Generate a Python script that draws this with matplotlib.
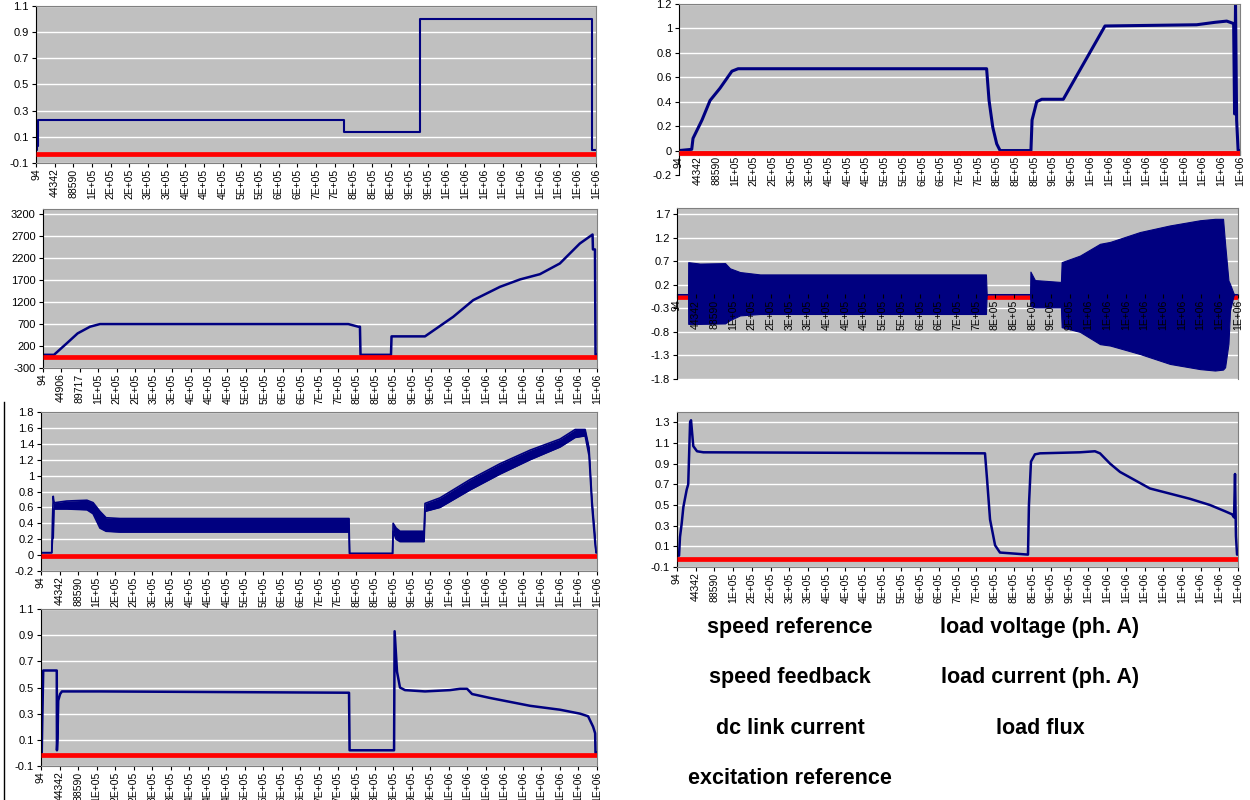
import matplotlib
matplotlib.use("Agg")
import matplotlib.pyplot as plt
from matplotlib.lines import Line2D
from matplotlib.ticker import FormatStrFormatter

plt.rcParams['font.family'] = ['Liberation Sans', 'DejaVu Sans']

W, H = 1250, 800
NAVY = '#000080'
RED = '#ff0000'
PLOT_BG = '#c0c0c0'

# category axis labels as Excel printed them (31 categories, index 0..30)
cat_labels = ["94", "44342", "88590", "1E+05", "2E+05", "2E+05", "3E+05", "3E+05",
              "4E+05", "4E+05", "4E+05", "5E+05", "5E+05", "6E+05", "6E+05", "7E+05",
              "7E+05", "8E+05", "8E+05", "8E+05", "9E+05", "9E+05", "1E+06", "1E+06",
              "1E+06", "1E+06", "1E+06", "1E+06", "1E+06", "1E+06", "1E+06"]
cat_labels_volt = ["94", "44906", "89717"] + cat_labels[3:]

# speed reference (top left)
spd_ref_x = [0, 0.06, 0.06, 0.10, 0.10, 16.50, 16.50, 20.57, 20.57, 29.77, 29.77, 30]
spd_ref_y = [0, 0, 0.03, 0.03, 0.23, 0.23, 0.14, 0.14, 1.0, 1.0, 0, 0]

# speed feedback (top right)
spd_fb_x = [0, 0.68, 0.75, 1.23, 1.66, 2.19, 2.83, 3.16, 16.45, 16.58, 16.78, 16.99, 17.17,
            18.82, 18.88, 19.13, 19.40, 20.55, 22.78, 27.68, 28.66, 29.29, 29.66, 29.71,
            29.76, 29.82, 29.90, 30]
spd_fb_y = [0, 0.01, 0.10, 0.25, 0.41, 0.51, 0.65, 0.67, 0.67, 0.41, 0.19, 0.055, 0,
            0, 0.25, 0.40, 0.42, 0.42, 1.02, 1.03, 1.05, 1.06, 1.04, 0.30,
            1.20, 0.25, 0.0, 0.0]

# load voltage (middle left)
volt_x = [0, 0.61, 1.30, 1.89, 2.56, 3.10, 16.54, 17.08, 17.17, 17.20, 18.85, 18.88, 20.69,
          22.22, 23.30, 24.75, 25.83, 26.91, 27.99, 29.07, 29.76, 29.78, 29.89, 29.92, 30]
volt_y = [0, 0, 261, 488, 640, 700, 700, 640, 640, 0, 0, 420, 420,
          866, 1245, 1548, 1716, 1836, 2080, 2534, 2739, 2400, 2400, 0, 0]

# load current ph. A (middle right), envelope of the oscillation
cur_x = [0, 0.59, 0.60, 1.23, 2.57, 2.83, 3.37, 4.44, 16.52, 16.56,
         18.88, 18.90, 19.14, 20.53, 20.57, 21.55, 22.62, 23.16, 24.76, 26.36,
         27.97, 28.77, 29.20, 29.31, 29.49, 29.57, 29.75, 29.79, 30]
cur_hi = [0, 0, 0.68, 0.65, 0.66, 0.55, 0.47, 0.42, 0.42, 0,
          0, 0.48, 0.30, 0.26, 0.68, 0.82, 1.07, 1.11, 1.32, 1.46,
          1.57, 1.60, 1.60, 1.07, 0.29, 0.22, 0.03, 0, 0]
cur_lo = [0, 0, -0.63, -0.63, -0.62, -0.55, -0.45, -0.42, -0.42, 0,
          0, -0.25, -0.28, -0.28, -0.70, -0.80, -1.06, -1.09, -1.27, -1.48,
          -1.59, -1.62, -1.60, -1.55, -1.05, -0.35, -0.05, 0, 0]

# dc link current (third left), noisy band
dc_x = [0, 0.58, 0.62, 0.66, 0.70, 0.76, 1.39, 2.48, 2.81, 3.18,
        3.51, 4.26, 16.62, 16.65, 18.97, 19.00, 19.16, 19.37, 20.67, 20.72,
        21.53, 23.15, 24.77, 26.39, 28.01, 28.82, 29.36, 29.57, 29.73, 29.89,
        29.95, 30]
dc_hi = [0.03, 0.03, 0.45, 0.74, 0.66, 0.66, 0.68, 0.69, 0.66, 0.55,
         0.47, 0.46, 0.46, 0.02, 0.02, 0.40, 0.34, 0.30, 0.30, 0.65,
         0.72, 0.95, 1.15, 1.32, 1.46, 1.58, 1.58, 1.35, 0.70, 0.25,
         0.03, 0.03]
dc_lo = [0.03, 0.03, 0.20, 0.22, 0.58, 0.58, 0.58, 0.57, 0.52, 0.34,
         0.30, 0.29, 0.29, 0.02, 0.02, 0.30, 0.20, 0.17, 0.17, 0.55,
         0.60, 0.82, 1.02, 1.20, 1.36, 1.48, 1.50, 1.25, 0.60, 0.15,
         0.03, 0.03]

# load flux (third right)
flux_x = [0, 0.11, 0.16, 0.25, 0.34, 0.52, 0.60, 0.70, 0.75, 0.87,
          1.07, 1.41, 16.47, 16.58, 16.74, 17.01, 17.27, 18.77, 18.82, 18.93,
          19.14, 19.41, 21.55, 22.35, 22.62, 23.16, 23.69, 24.49, 25.29, 26.36,
          27.43, 28.50, 29.30, 29.68, 29.79, 29.84, 29.89, 29.95, 30]
flux_y = [0.01, 0.01, 0.19, 0.32, 0.48, 0.65, 0.70, 1.30, 1.32, 1.07,
          1.02, 1.01, 1.0, 0.75, 0.36, 0.11, 0.04, 0.02, 0.5, 0.92,
          0.99, 1.0, 1.01, 1.02, 1.0, 0.9, 0.82, 0.74, 0.66, 0.61,
          0.56, 0.50, 0.44, 0.41, 0.38, 0.80, 0.20, 0.02, 0.02]

# excitation reference (bottom left)
exc_x = [0, 0.04, 0.07, 0.12, 0.85, 0.86, 0.89, 0.93, 1.03, 1.13,
         3.18, 16.62, 16.65, 19.05, 19.08, 19.21, 19.37, 19.64, 20.72, 22.07,
         22.61, 22.99, 23.26, 24.23, 25.31, 26.39, 28.01, 29.09, 29.52, 29.79,
         29.90, 29.92, 30]
exc_y = [0, 0, 0.25, 0.63, 0.63, 0.02, 0.11, 0.40, 0.45, 0.47,
         0.47, 0.46, 0.02, 0.02, 0.93, 0.62, 0.50, 0.48, 0.47, 0.48,
         0.49, 0.49, 0.45, 0.42, 0.39, 0.36, 0.33, 0.30, 0.28, 0.20,
         0.15, 0.0, 0.0]

# the red (second) series, flat just under zero
red_x = [0, 30]
red_a, red_b, red_c, red_d = -0.03, -0.016, -43, -0.05
red_e, red_f, red_g = -0.017, -0.02, -0.014

# y axis ticks of each chart
yt_a = [-0.1, 0.1, 0.3, 0.5, 0.7, 0.9, 1.1]
yt_b = [-0.2, 0, 0.2, 0.4, 0.6, 0.8, 1, 1.2]
yt_c = [-300, 200, 700, 1200, 1700, 2200, 2700, 3200]
yt_d = [-1.8, -1.3, -0.8, -0.3, 0.2, 0.7, 1.2, 1.7]
yt_e = [-0.2, 0, 0.2, 0.4, 0.6, 0.8, 1, 1.2, 1.4, 1.6, 1.8]
yt_f = [-0.1, 0.1, 0.3, 0.5, 0.7, 0.9, 1.1, 1.3]

left_names = ["speed reference", "speed feedback", "dc link current", "excitation reference"]
right_names = ["load voltage (ph. A)", "load current (ph. A)", "load flux"]


def make_axes(fig, box, ylim, yticks, xlabels, cross_zero=False):
    x0, ytop, x1, ybot = box
    ax = fig.add_axes([x0 / W, 1 - ybot / H, (x1 - x0) / W, (ybot - ytop) / H])
    # spine position has to be set first, it resets the tick styling
    if cross_zero:
        ax.spines['bottom'].set_position(('data', 0))
    ax.set_facecolor(PLOT_BG)
    ax.set_xlim(0, 30)
    ax.set_ylim(*ylim)
    ax.set_yticks(yticks)
    ax.yaxis.set_major_formatter(FormatStrFormatter('%g'))
    ax.set_xticks(range(len(xlabels)))
    ax.set_xticklabels(xlabels, rotation=90)
    ax.tick_params(axis='both', length=3, width=0.8, color='black')
    ax.tick_params(axis='y', pad=2, labelsize=8)
    ax.tick_params(axis='x', pad=1, labelsize=7.5)
    ax.yaxis.grid(True, color='white', linewidth=1)
    ax.set_axisbelow(True)
    ax.spines['left'].set_color('black')
    for s in ['top', 'right', 'bottom']:
        ax.spines[s].set_color('#808080')
    return ax


fig = plt.figure(figsize=(W / 100, H / 100), dpi=100)

# speed reference
ax = make_axes(fig, (36, 6, 596, 163), (-0.1, 1.1), yt_a, cat_labels)
ax.plot(spd_ref_x, spd_ref_y, color=NAVY, lw=1.5, zorder=2)
ax.plot(red_x, [red_a, red_a], color=RED, lw=3.4, zorder=3, solid_capstyle='butt')

# speed feedback, axis crosses at 0 and plot area ends there
ax = make_axes(fig, (679, 4, 1240, 175), (-0.2, 1.2), yt_b, cat_labels, cross_zero=True)
ax.set_facecolor('white')
ax.axhspan(-0.036, 1.2, color=PLOT_BG, zorder=0)
ax.spines['right'].set_bounds(-0.036, 1.2)
ax.plot(spd_fb_x, spd_fb_y, color=NAVY, lw=2.2, zorder=2)
ax.plot(red_x, [red_b, red_b], color=RED, lw=3.4, zorder=3, solid_capstyle='butt')

# load voltage
ax = make_axes(fig, (42.7, 209, 597, 368), (-300, 3320), yt_c, cat_labels_volt)
ax.plot(volt_x, volt_y, color=NAVY, lw=1.8, zorder=2)
ax.plot(red_x, [red_c, red_c], color=RED, lw=3.4, zorder=3, solid_capstyle='butt')

# load current, category labels sit on top of the waveform
ax = make_axes(fig, (677, 208, 1238, 379), (-1.8, 1.83), yt_d, cat_labels, cross_zero=True)
ax.spines['bottom'].set_zorder(1)
ax.xaxis.set_zorder(3)
ax.plot(red_x, [red_d, red_d], color=RED, lw=3.4, zorder=1.5, solid_capstyle='butt')
ax.fill_between(cur_x, cur_lo, cur_hi, color=NAVY, lw=0.8, zorder=2)

# dc link current
ax = make_axes(fig, (41, 412, 597, 571), (-0.2, 1.8), yt_e, cat_labels)
ax.fill_between(dc_x, dc_lo, dc_hi, color=NAVY, lw=0, zorder=2)
ax.plot(dc_x, dc_hi, color=NAVY, lw=1.2, zorder=2)
ax.plot(dc_x, dc_lo, color=NAVY, lw=1.2, zorder=2)
ax.plot(red_x, [red_e, red_e], color=RED, lw=3.4, zorder=3, solid_capstyle='butt')

# load flux
ax = make_axes(fig, (677, 412, 1238, 567), (-0.1, 1.4), yt_f, cat_labels)
ax.plot(flux_x, flux_y, color=NAVY, lw=1.8, zorder=2)
ax.plot(red_x, [red_f, red_f], color=RED, lw=3.4, zorder=3, solid_capstyle='butt')

# excitation reference
ax = make_axes(fig, (41, 609, 597, 766), (-0.1, 1.1), yt_a, cat_labels)
ax.plot(exc_x, exc_y, color=NAVY, lw=1.8, zorder=2)
ax.plot(red_x, [red_g, red_g], color=RED, lw=3.4, zorder=3, solid_capstyle='butt')

# legend-like captions
for i, name in enumerate(left_names):
    fig.text(790 / W, 1 - (628 + 50 * i) / H, name, ha='center', va='center',
             fontsize=15.5, fontweight='bold')
for i, name in enumerate(right_names):
    fig.text(1040 / W, 1 - (628 + 50 * i) / H, name, ha='center', va='center',
             fontsize=15.5, fontweight='bold')

# stray frame edge at the left
fig.add_artist(Line2D([4 / W, 4 / W], [1 - 402 / H, 0], color='black', lw=1))

fig.savefig("out.png", dpi=100)
